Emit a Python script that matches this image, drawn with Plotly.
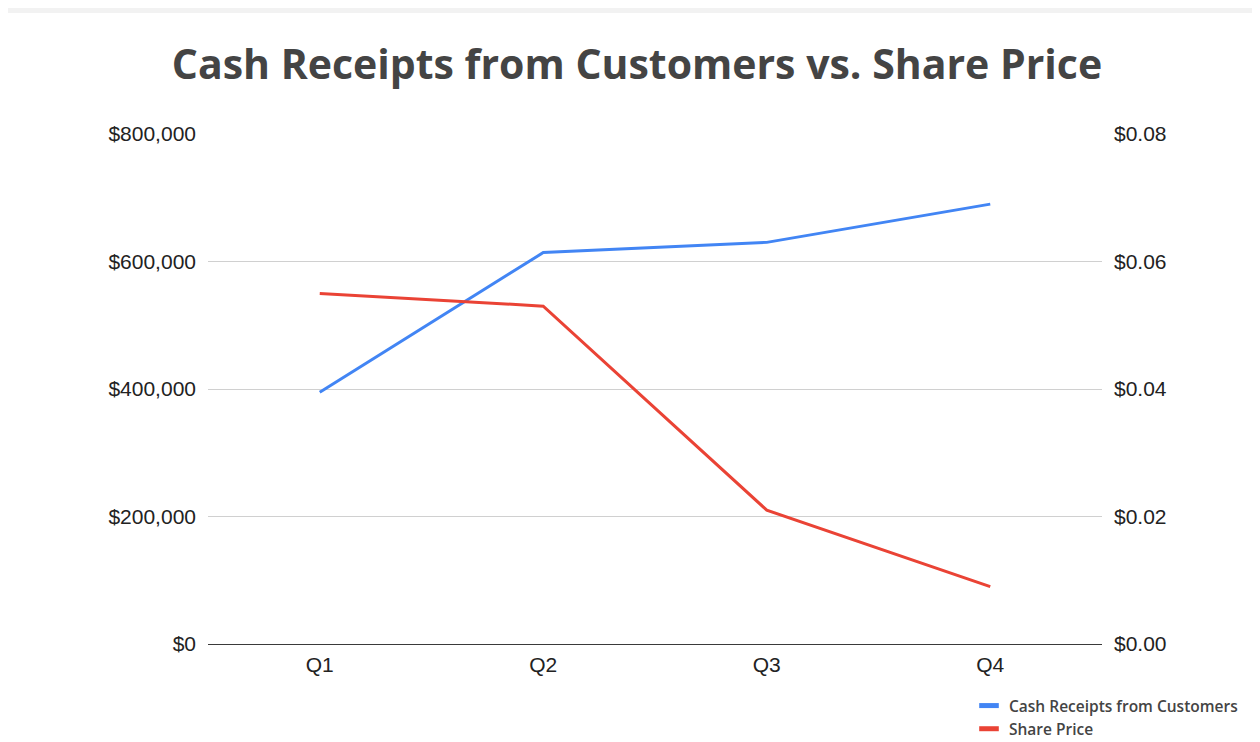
import plotly.graph_objects as go

quarters = ["Q1", "Q2", "Q3", "Q4"]
cash_receipts = [395000, 614000, 630000, 690000]
share_price = [0.055, 0.053, 0.021, 0.009]

left_ticks = [0, 200000, 400000, 600000, 800000]
right_ticks = [0.0, 0.02, 0.04, 0.06, 0.08]

BLUE = "#4285F4"
RED = "#EA4335"

# the page body adds an 8px offset; figure covers the rest of the window
W, H = 1252, 734
L, R, T, B = 200, 158, 126, 98

fig = go.Figure()
fig.add_trace(go.Scatter(x=quarters, y=cash_receipts, mode="lines",
                         line=dict(color=BLUE, width=3), showlegend=False,
                         name="Cash Receipts from Customers", yaxis="y"))
fig.add_trace(go.Scatter(x=quarters, y=share_price, mode="lines",
                         line=dict(color=RED, width=3), showlegend=False,
                         name="Share Price", yaxis="y2"))
# legend entries
for nm, col, ax in [("Cash Receipts from Customers", BLUE, "y"), ("Share Price", RED, "y2")]:
    fig.add_trace(go.Scatter(x=[None], y=[None], mode="markers",
                             marker=dict(symbol="line-ew", size=14, color=col,
                                         line=dict(color=col, width=6)),
                             name=nm, yaxis=ax))

tick_font = dict(family="Liberation Sans, Arial, sans-serif", size=21, color="#222222")

pw = W - L - R
ph = H - T - B
fig.update_layout(
    width=W, height=H,
    margin=dict(l=L, r=R, t=T, b=B, autoexpand=False),
    paper_bgcolor="white", plot_bgcolor="white",
    title=dict(text="Cash Receipts from Customers vs. Share Price",
               font=dict(family="Open Sans, sans-serif", size=41, color="#444444", weight=700),
               x=629 / W, xanchor="center", y=1 - 57 / H, yanchor="middle"),
    xaxis=dict(range=[-0.5, 3.5], showgrid=False, zeroline=False, showline=False,
               ticks="", tickfont=tick_font, ticklabelstandoff=6),
    yaxis=dict(range=[0, 800000], tickvals=left_ticks, tickformat="$,.0f",
               showgrid=True, gridcolor="#d0d0d0", gridwidth=1.3,
               zeroline=True, zerolinecolor="#3a3a3a", zerolinewidth=1.3,
               showline=False, ticks="", tickfont=tick_font, ticklabelstandoff=11),
    yaxis2=dict(range=[0, 0.08], tickvals=right_ticks, tickformat="$.2f",
                overlaying="y", side="right", showgrid=False, zeroline=False,
                showline=False, ticks="", tickfont=tick_font, ticklabelstandoff=11),
    legend=dict(x=(961 - L) / pw, xanchor="left", y=(ph - (681 - T)) / ph, yanchor="top",
                orientation="v", itemwidth=30, tracegroupgap=0,
                font=dict(family="Open Sans, sans-serif", size=15.5, color="#444444", weight=600),
                bgcolor="rgba(0,0,0,0)"),
    shapes=[
        dict(type="rect", xref="paper", yref="paper",
             x0=-L / pw, x1=(W - L) / pw, y0=(ph + T - 5) / ph, y1=(ph + T) / ph,
             fillcolor="#f2f2f2", line=dict(width=0), layer="below"),
    ],
)

fig.write_html("out.html")
